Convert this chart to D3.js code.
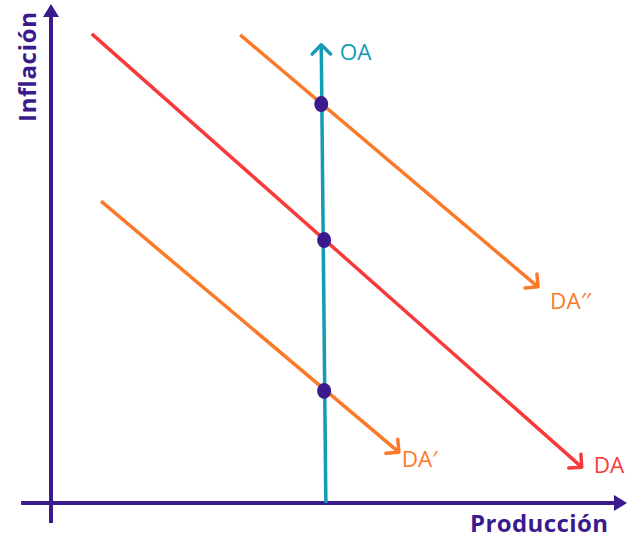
<!DOCTYPE html>
<html>
<head>
<meta charset="utf-8">
<script src="https://cdn.jsdelivr.net/npm/d3@7"></script>
<style>
  html, body { margin: 0; padding: 0; background: #fff; }
  svg { display: block; }
</style>
</head>
<body>
<div id="chart"></div>
<script>
const w = 643, h = 551;

// curves in chart units (x: producción, y: inflación), origin at axes crossing
const curveNames = ["OA", "DA", "DA′′", "DA′"];
const curveStart = [[47.8, 0], [7.1, 94.2], [32.9, 94.0], [8.7, 60.6]];
const curveEnd = [[47.0, 92.0], [92.3, 7.2], [84.7, 43.4], [60.5, 10.2]];
const curveColors = ["#139cb3", "#f83a3a", "#fb7a2a", "#fb7a2a"];
const labelPos = [[50.2, 90.2], [94.4, 7.2], [86.8, 40.2], [61, 8.4]];

const eqX = [47.0, 47.5, 47.5];
const eqY = [80.1, 52.8, 22.5];

const axisColor = "#3a1a8c";

const x = d3.scaleLinear().domain([0, 100]).range([51, 626]);
const y = d3.scaleLinear().domain([0, 100]).range([503, 5]);

const svg = d3.select("#chart").append("svg")
  .attr("width", w).attr("height", h)
  .attr("viewBox", `0 0 ${w} ${h}`);

// axes
svg.append("line")
  .attr("x1", x(0)).attr("y1", y(-4)).attr("x2", x(0)).attr("y2", y(100) + 10)
  .attr("stroke", axisColor).attr("stroke-width", 4);
svg.append("path")
  .attr("d", `M${x(0)},${y(100) - 1} l-8,13 l16,0 z`)
  .attr("fill", axisColor);

svg.append("line")
  .attr("x1", x(-5.2)).attr("y1", y(0)).attr("x2", x(100) - 10).attr("y2", y(0))
  .attr("stroke", axisColor).attr("stroke-width", 4);
svg.append("path")
  .attr("d", `M${x(100) + 1},${y(0)} l-13,-8 l0,16 z`)
  .attr("fill", axisColor);

svg.append("text")
  .attr("transform", `translate(${x(0) - 15},${y(100) + 62}) rotate(-90)`)
  .attr("text-anchor", "middle")
  .attr("font-family", "Open Sans, sans-serif")
  .attr("font-weight", 700)
  .attr("font-size", 24)
  .attr("textLength", 110)
  .attr("fill", axisColor)
  .text("Inflación");

svg.append("text")
  .attr("x", 539).attr("y", 532)
  .attr("text-anchor", "middle")
  .attr("font-family", "Open Sans, sans-serif")
  .attr("font-weight", 700)
  .attr("font-size", 24)
  .attr("textLength", 138)
  .attr("fill", axisColor)
  .text("Producción");

// curves with open arrowheads
const curves = svg.append("g").selectAll("g")
  .data(curveNames.map((name, i) => ({name, s: curveStart[i], e: curveEnd[i], c: curveColors[i], l: labelPos[i]})))
  .join("g");

curves.append("line")
  .attr("x1", d => x(d.s[0])).attr("y1", d => y(d.s[1]))
  .attr("x2", d => x(d.e[0])).attr("y2", d => y(d.e[1]))
  .attr("stroke", d => d.c).attr("stroke-width", 3.5);

curves.append("path")
  .attr("d", d => {
    const x1 = x(d.s[0]), y1 = y(d.s[1]), x2 = x(d.e[0]), y2 = y(d.e[1]);
    const a = Math.atan2(y2 - y1, x2 - x1), len = 13, spread = Math.PI / 4;
    const p1 = [x2 - len * Math.cos(a - spread), y2 - len * Math.sin(a - spread)];
    const p2 = [x2 - len * Math.cos(a + spread), y2 - len * Math.sin(a + spread)];
    return `M${p1[0]},${p1[1]} L${x2},${y2} L${p2[0]},${p2[1]}`;
  })
  .attr("fill", "none")
  .attr("stroke", d => d.c).attr("stroke-width", 3.5)
  .attr("stroke-linecap", "round").attr("stroke-linejoin", "round");

curves.append("text")
  .attr("x", d => x(d.l[0])).attr("y", d => y(d.l[1]))
  .attr("dominant-baseline", "middle")
  .attr("font-family", "Open Sans, sans-serif")
  .attr("font-size", 22.5)
  .attr("fill", d => d.c)
  .text(d => d.name);

// equilibrium points
svg.append("g").selectAll("ellipse")
  .data(eqX.map((v, i) => [v, eqY[i]]))
  .join("ellipse")
  .attr("cx", d => x(d[0])).attr("cy", d => y(d[1]))
  .attr("rx", 7).attr("ry", 8)
  .attr("fill", axisColor);
</script>
</body>
</html>
